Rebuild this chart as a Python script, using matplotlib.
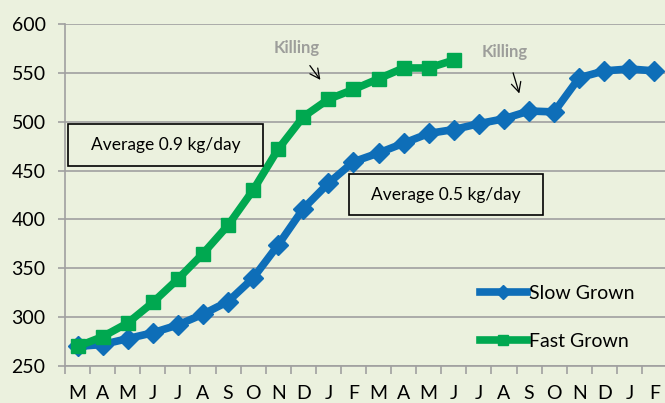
import matplotlib
matplotlib.use('Agg')
import matplotlib.pyplot as plt
from matplotlib.patches import Rectangle

months = ['M', 'A', 'M', 'J', 'J', 'A', 'S', 'O', 'N', 'D', 'J', 'F',
          'M', 'A', 'M', 'J', 'J', 'A', 'S', 'O', 'N', 'D', 'J', 'F']
slow_grown = [270, 272, 278, 284, 292, 303, 316, 340, 374, 411, 437, 459,
              468, 478, 488, 492, 498, 503, 511, 510, 545, 552, 554, 552]
fast_grown = [270, 280, 294, 315, 339, 365, 394, 430, 472, 505, 523, 533,
              544, 555, 555, 563]
y_ticks = [250, 300, 350, 400, 450, 500, 550, 600]

bg = '#EBF1DE'
blue = '#0E6EB8'
green = '#00A850'
plt.rcParams['font.family'] = ['Lato', 'DejaVu Sans']

fig = plt.figure(figsize=(6.65, 4.03), dpi=100, facecolor=bg)
ax = fig.add_axes([65 / 665, 37 / 403, 602 / 665, 342 / 403])
ax.set_facecolor(bg)

x_slow = range(len(slow_grown))
x_fast = range(len(fast_grown))
ax.plot(x_slow, slow_grown, color=blue, lw=5.5, marker='D', ms=10,
        label='Slow Grown', zorder=3, clip_on=False)
ax.plot(x_fast, fast_grown, color=green, lw=5.5, marker='s', ms=10,
        label='Fast Grown', zorder=4, clip_on=False)

ax.set_xlim(-0.5, len(months) - 0.5)
ax.set_ylim(250, 600)
ax.set_yticks(y_ticks)
ax.yaxis.grid(True, color='#A0A0A0', lw=1.2)
ax.set_axisbelow(True)
ax.tick_params(axis='y', length=5, color='#A0A0A0', width=1.2, labelsize=14, pad=9)

# category boundaries get the tick marks, centres get the labels
ax.set_xticks([i - 0.5 for i in range(len(months) + 1)])
ax.set_xticklabels([])
ax.set_xticks(range(len(months)), minor=True)
ax.set_xticklabels(months, minor=True)
ax.tick_params(axis='x', which='major', length=6, color='#A0A0A0', width=1.2)
ax.tick_params(axis='x', which='minor', length=0, labelsize=14, pad=14)

for s in ['top', 'right']:
    ax.spines[s].set_visible(False)
ax.spines['left'].set_color('#A0A0A0')
ax.spines['left'].set_linewidth(1.2)
ax.spines['bottom'].set_color('#A0A0A0')
ax.spines['bottom'].set_linewidth(1.2)

# text boxes
ax.add_patch(Rectangle((0.005, 0.585), 0.324, 0.123, transform=ax.transAxes,
                       facecolor=bg, edgecolor='black', lw=1.2, zorder=5))
ax.text(0.167, 0.646, 'Average 0.9 kg/day', transform=ax.transAxes,
        ha='center', va='center', fontsize=12.5, zorder=6)
ax.add_patch(Rectangle((0.472, 0.4415), 0.322, 0.12, transform=ax.transAxes,
                       facecolor=bg, edgecolor='black', lw=1.2, zorder=5))
ax.text(0.633, 0.501, 'Average 0.5 kg/day', transform=ax.transAxes,
        ha='center', va='center', fontsize=12.5, zorder=6)

# killing notes
arrow = dict(arrowstyle='->,head_length=0.7,head_width=0.35', color='black', lw=0.9)
ax.text(0.385, 0.930, 'Killing', transform=ax.transAxes, ha='center', va='center',
        fontsize=12, fontweight='bold', color='#8A8A8A', alpha=0.8)
ax.annotate('', xy=(0.427, 0.830), xytext=(0.404, 0.885), xycoords='axes fraction',
            arrowprops=arrow)
ax.text(0.731, 0.918, 'Killing', transform=ax.transAxes, ha='center', va='center',
        fontsize=12, fontweight='bold', color='#8A8A8A', alpha=0.8)
ax.annotate('', xy=(0.756, 0.789), xytext=(0.743, 0.865), xycoords='axes fraction',
            arrowprops=arrow)

fig.legend(loc='upper left', bbox_to_anchor=(480 / 665, 0.294), frameon=False,
           fontsize=14, handlelength=2.4, handletextpad=0.1, labelspacing=1.6,
           borderpad=0, borderaxespad=0, markerscale=0.7)

fig.savefig('out.png', dpi=100, facecolor=bg)
